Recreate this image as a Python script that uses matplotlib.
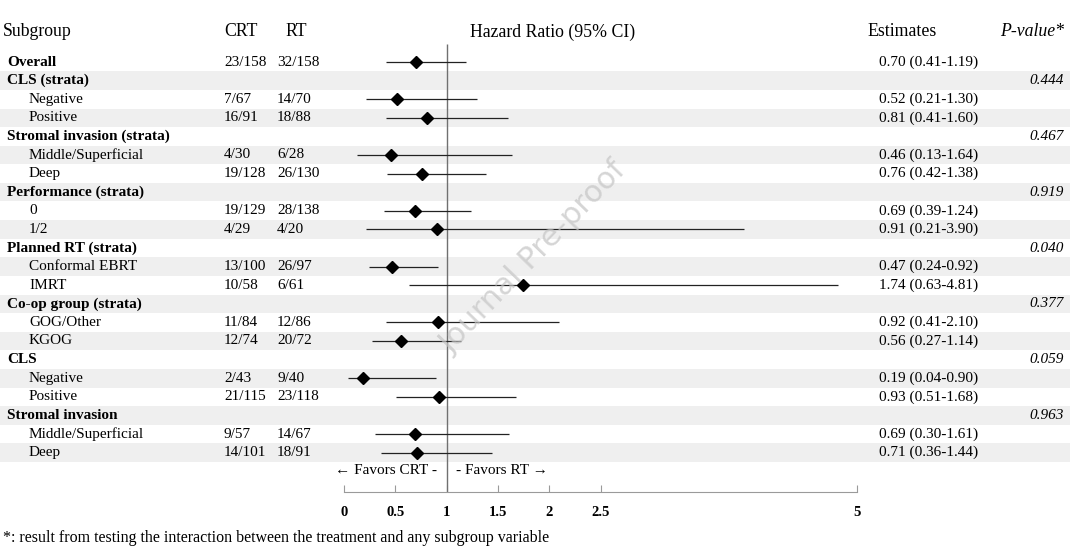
import numpy as np
import matplotlib
matplotlib.use("Agg")
import matplotlib.pyplot as plt
from matplotlib.transforms import blended_transform_factory

# ---------------- data ----------------
labels = ["Overall", "CLS (strata)", "Negative", "Positive",
          "Stromal invasion (strata)", "Middle/Superficial", "Deep",
          "Performance (strata)", "0", "1/2",
          "Planned RT (strata)", "Conformal EBRT", "IMRT",
          "Co-op group (strata)", "GOG/Other", "KGOG",
          "CLS", "Negative", "Positive",
          "Stromal invasion", "Middle/Superficial", "Deep"]
is_header = [True, True, False, False, True, False, False, True, False, False,
             True, False, False, True, False, False, True, False, False,
             True, False, False]
crt = ["23/158", "", "7/67", "16/91", "", "4/30", "19/128", "", "19/129", "4/29",
       "", "13/100", "10/58", "", "11/84", "12/74", "", "2/43", "21/115",
       "", "9/57", "14/101"]
rt = ["32/158", "", "14/70", "18/88", "", "6/28", "26/130", "", "28/138", "4/20",
      "", "26/97", "6/61", "", "12/86", "20/72", "", "9/40", "23/118",
      "", "14/67", "18/91"]
nan = np.nan
hr = [0.70, nan, 0.52, 0.81, nan, 0.46, 0.76, nan, 0.69, 0.91,
      nan, 0.47, 1.74, nan, 0.92, 0.56, nan, 0.19, 0.93, nan, 0.69, 0.71]
lo = [0.41, nan, 0.21, 0.41, nan, 0.13, 0.42, nan, 0.39, 0.21,
      nan, 0.24, 0.63, nan, 0.41, 0.27, nan, 0.04, 0.51, nan, 0.30, 0.36]
hi = [1.19, nan, 1.30, 1.60, nan, 1.64, 1.38, nan, 1.24, 3.90,
      nan, 0.92, 4.81, nan, 2.10, 1.14, nan, 0.90, 1.68, nan, 1.61, 1.44]
pvals = ["", "0.444", "", "", "0.467", "", "", "0.919", "", "",
         "0.040", "", "", "0.377", "", "", "0.059", "", "", "0.963", "", ""]
xticks = [0, 0.5, 1, 1.5, 2, 2.5, 5]
xtick_labels = ["0", "0.5", "1", "1.5", "2", "2.5", "5"]

# ---------------- figure ----------------
W, H = 1084, 553
fig = plt.figure(figsize=(W / 100, H / 100), dpi=100)
ax = fig.add_axes([0, 0, 1, 1])
serif = ["Liberation Serif", "DejaVu Serif"]
plt.rcParams["font.family"] = serif

x0_px, unit_px = 344.0, 102.6
y0_px, row_px = 62.0, 18.6
ax.set_xlim(-x0_px / unit_px, (W - x0_px) / unit_px)
ax.set_ylim((H - y0_px) / row_px, -y0_px / row_px)

n = len(labels)
rows = np.arange(n)

# shaded bands (odd rows)
band_right = 1070.0 / W
for i in rows:
    if i % 2 == 1:
        ax.axhspan(i - 0.5, i + 0.5, xmin=0, xmax=band_right,
                   color="#efefef", lw=0, zorder=0)

# reference line at HR = 1
axis_row = (492 - y0_px) / row_px
top_row = (44 - y0_px) / row_px
ax.vlines(1, top_row, axis_row, color="#707070", lw=1.0, zorder=2)

# CIs and point estimates
hr_a, lo_a, hi_a = np.array(hr), np.array(lo), np.array(hi)
ok = ~np.isnan(hr_a)
ax.hlines(rows[ok], lo_a[ok], hi_a[ok], color="#222222", lw=0.9, zorder=3)
ax.plot(hr_a[ok], rows[ok], "D", color="black", ms=6.5, zorder=4)

# x axis
for s in ["top", "left", "right"]:
    ax.spines[s].set_visible(False)
ax.spines["bottom"].set_position(("data", axis_row))
ax.spines["bottom"].set_bounds(0, 5)
ax.spines["bottom"].set_color("#9a9a9a")
ax.set_xticks(xticks)
ax.set_xticklabels(xtick_labels, fontsize=10.5, fontweight="bold")
ax.tick_params(axis="x", direction="in", length=5, color="#9a9a9a", pad=10)
ax.set_yticks([])

# text
tr = blended_transform_factory(fig.transFigure, ax.transData)
def fx(px):
    return px / W

fs = 11
hfs = 12.8
hdr_row = (32 - y0_px) / row_px
ax.text(fx(3), hdr_row, "Subgroup", transform=tr, fontsize=hfs, va="center")
ax.text(fx(224), hdr_row, "CRT", transform=tr, fontsize=hfs, va="center")
ax.text(fx(285), hdr_row, "RT", transform=tr, fontsize=hfs, va="center")
ax.text(fx(553), hdr_row, "Hazard Ratio (95% CI)", transform=tr, fontsize=hfs,
        va="center", ha="center")
ax.text(fx(902), hdr_row, "Estimates", transform=tr, fontsize=hfs,
        va="center", ha="center")
ax.text(fx(1064), hdr_row, "P-value*", transform=tr, fontsize=hfs,
        va="center", ha="right", style="italic")

for i in rows:
    if is_header[i]:
        ax.text(fx(7), i, labels[i], transform=tr, fontsize=fs, va="center",
                fontweight="bold")
    else:
        ax.text(fx(29), i, labels[i], transform=tr, fontsize=fs, va="center")
    if crt[i]:
        ax.text(fx(224), i, crt[i], transform=tr, fontsize=fs, va="center")
    if rt[i]:
        ax.text(fx(277), i, rt[i], transform=tr, fontsize=fs, va="center")
    if ok[i]:
        ax.text(fx(978), i, f"{hr[i]:.2f} ({lo[i]:.2f}-{hi[i]:.2f})",
                transform=tr, fontsize=fs, va="center", ha="right")
    if pvals[i]:
        ax.text(fx(1064), i, pvals[i], transform=tr, fontsize=fs, va="center",
                ha="right", style="italic")

fav_row = (470 - y0_px) / row_px
ax.text(fx(437), fav_row, "\u2190 Favors CRT -", transform=tr, fontsize=fs,
        va="center", ha="right", family=serif)
ax.text(fx(456), fav_row, "- Favors RT \u2192", transform=tr, fontsize=fs,
        va="center", ha="left", family=serif)

fig.text(fx(3), 1 - 538 / H,
         "*: result from testing the interaction between the treatment and any subgroup variable",
         fontsize=11.5, va="center", ha="left")

# watermark
fig.text(fx(533), 1 - 258 / H, "Journal Pre-proof", family="DejaVu Sans",
         fontsize=22, color="#c4c4c4", alpha=0.7, rotation=46,
         ha="center", va="center", zorder=1)

fig.savefig("out.png", dpi=100)
